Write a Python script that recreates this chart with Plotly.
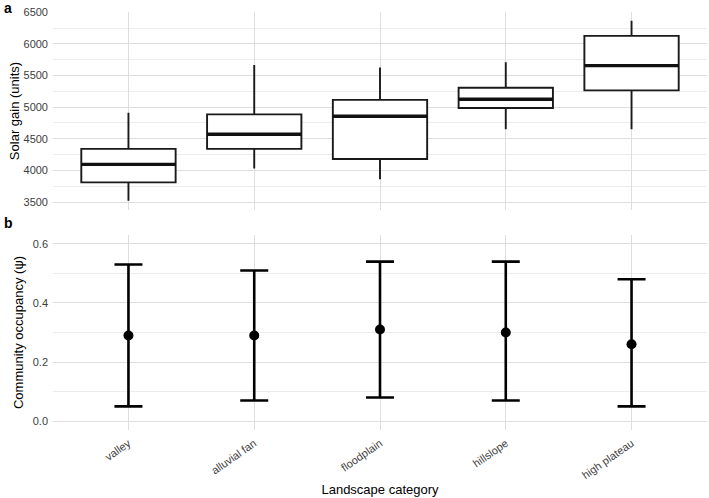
import plotly.graph_objects as go

categories = ["valley", "alluvial fan", "floodplain", "hillslope", "high plateau"]

# Panel a: solar gain box statistics
solar_low = [3520, 4030, 3860, 4650, 4650]
solar_q1 = [3810, 4340, 4180, 4985, 5265]
solar_median = [4095, 4570, 4855, 5125, 5655]
solar_q3 = [4340, 4885, 5115, 5305, 6125]
solar_high = [4910, 5665, 5625, 5710, 6365]

# Panel b: community occupancy estimates with intervals
occ_mean = [0.29, 0.29, 0.31, 0.30, 0.26]
occ_lower = [0.05, 0.07, 0.08, 0.07, 0.05]
occ_upper = [0.53, 0.51, 0.54, 0.54, 0.48]

xpos = list(range(len(categories)))
BOXW = 0.75
FONT = "Liberation Sans, Arial, sans-serif"

fig = go.Figure()

fig.add_trace(go.Box(
    x=xpos, q1=solar_q1, median=solar_median, q3=solar_q3,
    lowerfence=solar_low, upperfence=solar_high,
    width=BOXW, whiskerwidth=0, fillcolor="white",
    line=dict(color="#1a1a1a", width=1.9),
    boxpoints=False, showlegend=False, xaxis="x", yaxis="y",
))

# thicker median lines
mx, my = [], []
for i, m in zip(xpos, solar_median):
    mx += [i - BOXW / 2, i + BOXW / 2, None]
    my += [m, m, None]
fig.add_trace(go.Scatter(x=mx, y=my, mode="lines",
                         line=dict(color="#111111", width=3.4),
                         showlegend=False, hoverinfo="skip",
                         xaxis="x", yaxis="y"))

fig.add_trace(go.Scatter(
    x=xpos, y=occ_mean, mode="markers",
    marker=dict(color="black", size=10),
    error_y=dict(type="data", symmetric=False,
                 array=[u - m for u, m in zip(occ_upper, occ_mean)],
                 arrayminus=[m - l for m, l in zip(occ_mean, occ_lower)],
                 color="black", thickness=2.6, width=14),
    showlegend=False, xaxis="x2", yaxis="y2",
))

grid_major = "#dedede"
grid_minor = "#ececec"
tickfont = dict(family=FONT, size=11, color="#3d3d3d")
titlefont = dict(family=FONT, size=13, color="#000000")

xcommon = dict(range=[-0.6, 4.6], tickvals=xpos, showgrid=True,
               gridcolor=grid_major, gridwidth=1.1, zeroline=False,
               showline=False, ticks="")

fig.update_layout(
    width=709, height=498,
    margin=dict(l=53, r=2, t=12, b=68),
    paper_bgcolor="white", plot_bgcolor="white",
    font=dict(family=FONT),
    xaxis=dict(**xcommon, domain=[0, 1], anchor="y", showticklabels=False,
               ticktext=categories),
    yaxis=dict(domain=[0.5263, 1], range=[3374, 6503],
               tickvals=[3500, 4000, 4500, 5000, 5500, 6000, 6500],
               gridcolor=grid_major, gridwidth=1.1, zeroline=False,
               tickfont=tickfont, ticks="", ticklabelstandoff=4,
               minor=dict(tickvals=[3750, 4250, 4750, 5250, 5750, 6250],
                          showgrid=True, gridcolor=grid_minor, gridwidth=0.6),
               title=dict(text="Solar gain (units)", font=titlefont, standoff=0)),
    xaxis2=dict(**xcommon, domain=[0, 1], anchor="y2", showticklabels=True,
                ticktext=categories, tickangle=-35, tickfont=tickfont,
                ticklabelstandoff=4,
                title=dict(text="Landscape category", font=titlefont, standoff=4)),
    yaxis2=dict(domain=[0, 0.4665], range=[-0.03, 0.63],
                tickvals=[0, 0.2, 0.4, 0.6], ticktext=["0.0", "0.2", "0.4", "0.6"],
                gridcolor=grid_major, gridwidth=1.1, zeroline=False,
                tickfont=tickfont, ticks="", ticklabelstandoff=4,
                minor=dict(tickvals=[0.1, 0.3, 0.5], showgrid=True,
                           gridcolor=grid_minor, gridwidth=0.6),
                title=dict(text="Community occupancy (ψ)", font=titlefont, standoff=6)),
    annotations=[
        dict(text="<b>a</b>", x=0, y=1, xref="paper", yref="paper",
             xshift=-51, yshift=14, xanchor="left", yanchor="top",
             showarrow=False, font=dict(family=FONT, size=14, color="black")),
        dict(text="<b>b</b>", x=0, y=0.4665, xref="paper", yref="paper",
             xshift=-51, yshift=22, xanchor="left", yanchor="top",
             showarrow=False, font=dict(family=FONT, size=14, color="black")),
    ],
)

fig.write_html("out.html")
